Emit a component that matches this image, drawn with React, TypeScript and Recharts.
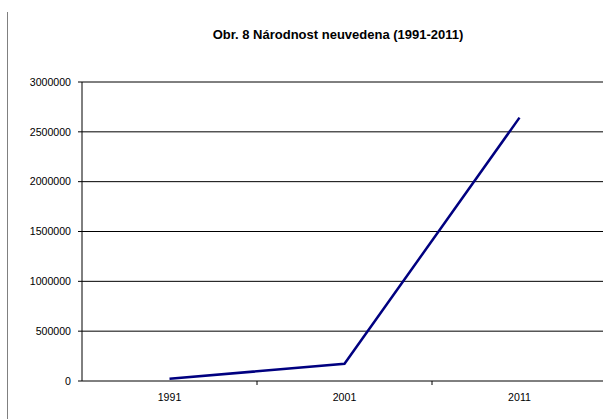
import React from 'react';
import { LineChart, Line, XAxis, YAxis, CartesianGrid, ReferenceLine } from 'recharts';

const years = ['1991', '2001', '2011'];
const notStated = [22017, 172827, 2642666];
const yTicks = [0, 500000, 1000000, 1500000, 2000000, 2500000, 3000000];

const data = years.map((year, i) => ({ year, value: notStated[i] }));

const BAND = 175;
const FONT = '"Liberation Sans", Arial, sans-serif';

const YearTick = (props: any) => {
  const { x, y, payload } = props;
  const axisY = y - 8;
  return (
    <g>
      <line x1={x + BAND / 2} y1={axisY} x2={x + BAND / 2} y2={axisY + 4} stroke="#000" strokeWidth={1} />
      <text x={x} y={axisY + 20} textAnchor="middle" fontSize={10.6} fill="#000" fontFamily={FONT}>
        {payload.value}
      </text>
    </g>
  );
};

const App: React.FC = () => {
  return (
    <div style={{ position: 'absolute', left: 0, top: 0, width: 603, height: 419, overflow: 'hidden', background: '#fff' }}>
      <div style={{ position: 'absolute', left: 7, top: 12, width: 1, height: 407, background: '#808080' }} />
      <div
        style={{
          position: 'absolute', left: 190, width: 296, top: 27, textAlign: 'center',
          fontFamily: FONT, fontWeight: 'bold', fontSize: 13, color: '#000'
        }}
      >
        Obr. 8 Národnost neuvedena (1991-2011)
      </div>
      <div style={{ position: 'absolute', left: 0, top: 0 }}>
        <LineChart width={607} height={419} data={data} margin={{ top: 82, right: 0, left: 0, bottom: 8 }}>
          <CartesianGrid vertical={false} stroke="#000" strokeWidth={1} />
          <ReferenceLine y={3000000} stroke="#808080" strokeWidth={1} />
          <XAxis
            dataKey="year"
            height={30}
            tickLine={false}
            axisLine={{ stroke: '#808080' }}
            tick={<YearTick />}
            interval={0}
            padding={{ left: BAND / 2, right: BAND / 2 }}
          />
          <YAxis
            width={82}
            domain={[0, 3000000]}
            ticks={yTicks}
            interval={0}
            tickSize={4}
            tickMargin={7}
            axisLine={{ stroke: '#000' }}
            tickLine={{ stroke: '#000' }}
            tick={{ fontSize: 10.6, fill: '#000', fontFamily: FONT }}
          />
          <Line
            dataKey="value"
            stroke="#000080"
            strokeWidth={2.5}
            dot={false}
            isAnimationActive={false}
          />
        </LineChart>
      </div>
    </div>
  );
};

export default App;
